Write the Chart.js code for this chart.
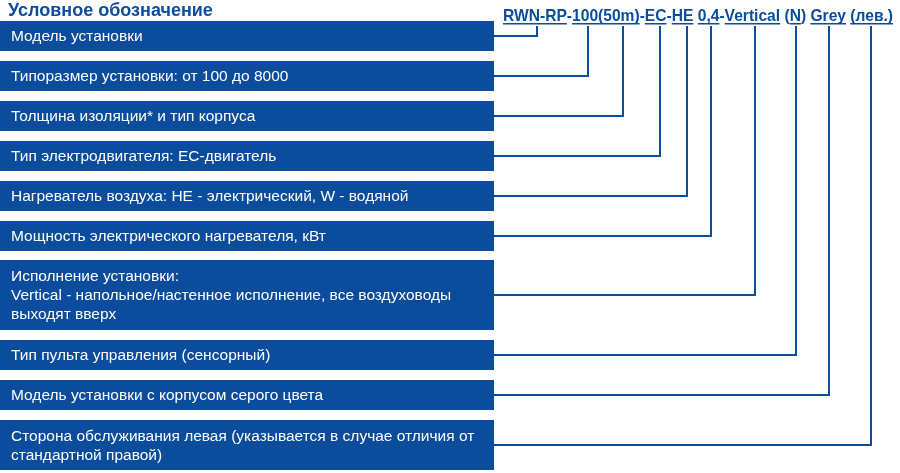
<!DOCTYPE html>
<html><head><meta charset="utf-8">
<script src="https://cdn.jsdelivr.net/npm/chart.js@4"></script>
<style>html,body{margin:0;padding:0;background:#fff}#c{display:block}</style>
</head><body>
<div style="width:900px;height:473px"><canvas id="c" width="900" height="473"></canvas></div>
<script>
const title = "Условное обозначение";
const labels = [
  ["Модель установки"],
  ["Типоразмер установки: от 100 до 8000"],
  ["Толщина изоляции* и тип корпуса"],
  ["Тип электродвигателя: EC-двигатель"],
  ["Нагреватель воздуха: HE - электрический, W - водяной"],
  ["Мощность электрического нагревателя, кВт"],
  ["Исполнение установки:","Vertical - напольное/настенное исполнение, все воздуховоды","выходят вверх"],
  ["Тип пульта управления (сенсорный)"],
  ["Модель установки с корпусом серого цвета"],
  ["Сторона обслуживания левая (указывается в случае отличия от","стандартной правой)"]
];
const boxTop = [21,61,101,141,181,221,260,340,380,420];
const boxBottom = [51,91,131,171,211,251,330,370,410,470];
const linkY = [36,76,116,156,196,236,295,355,395,445];
const linkX = [537,588,623,660,687,711,755,796,829,871];
const codeParts = [["RWN-RP",1],["-",0],["100",1],["(50m)",1],["-",0],["EC",1],["-",0],["HE",1],[" ",0],["0,4",1],["-",0],["Vertical",1],[" ",0],["(",0],["N",1],[")",0],[" ",0],["Grey",1],[" ",0],["(лев.)",1]];
const BLUE = "#0b4c9c";
const boxRight = 494;
const datasets = linkY.map((y,i)=>({
  data:[{x:boxRight,y:y},{x:linkX[i],y:y},{x:linkX[i],y:26}],
  showLine:true,borderColor:BLUE,borderWidth:2,pointRadius:0,fill:false,tension:0
}));
const drawPlugin = {
  id:'diagram',
  beforeDatasetsDraw(chart){
    const ctx=chart.ctx, xs=chart.scales.x, ys=chart.scales.y;
    ctx.save();
    boxTop.forEach((t,i)=>{
      const x0=xs.getPixelForValue(0), x1=xs.getPixelForValue(boxRight);
      const y0=ys.getPixelForValue(t), y1=ys.getPixelForValue(boxBottom[i]);
      ctx.fillStyle=BLUE; ctx.fillRect(x0,y0,x1-x0,y1-y0);
      ctx.fillStyle="#fff"; ctx.font="15.5px 'Liberation Sans', Arial, sans-serif";
      ctx.textBaseline="middle";
      const lines=labels[i], lh=19, mid=(y0+y1)/2;
      lines.forEach((s,k)=>ctx.fillText(s,11,mid+(k-(lines.length-1)/2)*lh+1));
    });
    ctx.restore();
  },
  afterDatasetsDraw(chart){
    const ctx=chart.ctx;
    ctx.save();
    ctx.fillStyle=BLUE; ctx.textBaseline="alphabetic";
    ctx.font="bold 18px 'Liberation Sans', Arial, sans-serif";
    ctx.fillText(title,8,16);
    ctx.font="bold 17px 'Liberation Sans', Arial, sans-serif";
    let total=0; codeParts.forEach(p=>total+=ctx.measureText(p[0]).width);
    const sc=(893-503)/total;
    let x=503;
    codeParts.forEach(p=>{
      const w=ctx.measureText(p[0]).width*sc;
      ctx.save(); ctx.translate(x,21); ctx.scale(sc,1); ctx.fillText(p[0],0,0); ctx.restore();
      if(p[1]){ctx.fillRect(x,23,w,1.5);}
      x+=w;
    });
    ctx.restore();
  }
};
new Chart(document.getElementById('c'),{
  type:'scatter',
  data:{datasets},
  options:{
    responsive:false,animation:false,
    layout:{padding:0},
    plugins:{legend:{display:false},tooltip:{enabled:false}},
    scales:{
      x:{type:'linear',min:0,max:900,display:false},
      y:{type:'linear',min:0,max:473,reverse:true,display:false}
    }
  },
  plugins:[drawPlugin]
});
</script>
</body></html>
